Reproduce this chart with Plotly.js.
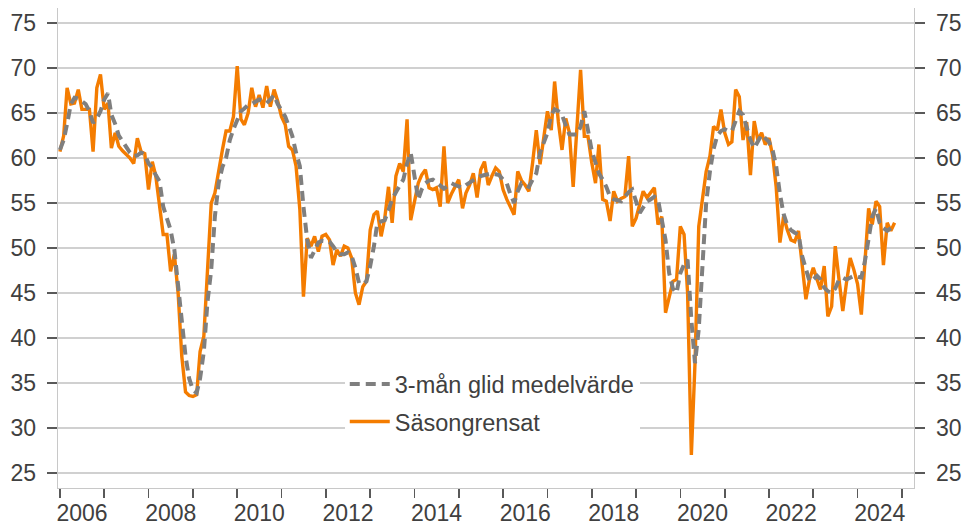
<!DOCTYPE html>
<html>
<head>
<meta charset="utf-8">
<script src="https://cdn.plot.ly/plotly-3.0.1.min.js"></script>
<style>html,body{margin:0;padding:0;background:#fff;}#chart{width:963px;height:526px;}</style>
</head>
<body>
<div id="chart"></div>
<script>
// ---- data ----
var startYear = 2006;
var startMonth = 1;
var sasongrensat = [
60.7,62.5,67.8,66.0,66.1,67.6,65.4,65.4,65.4,60.7,67.8,69.3,
65.4,66.1,61.1,62.8,61.3,60.8,60.4,60.0,59.4,62.2,60.7,60.5,
56.5,59.6,58.0,55.0,51.5,51.5,47.4,49.3,45.0,38.0,34.0,33.6,
33.5,33.7,38.5,40.2,47.0,55.0,56.1,58.7,60.9,63.0,63.0,64.6,
70.2,64.3,63.7,65.0,67.8,65.7,67.0,65.6,68.0,65.7,67.6,66.3,
64.6,63.7,61.3,60.9,59.1,54.3,44.6,51.1,50.2,51.3,49.6,51.3,
51.5,50.9,48.1,49.8,49.1,50.2,50.0,48.9,45.0,43.7,45.7,46.3,
52.0,53.7,54.1,51.3,53.3,56.8,52.8,58.0,59.4,58.5,64.3,53.1,
55.0,57.2,58.1,58.7,56.7,56.5,56.7,54.6,61.3,55.0,56.0,56.7,
57.6,54.4,56.1,57.0,58.3,55.6,58.7,59.6,57.0,58.0,58.9,58.5,
56.5,55.4,54.5,53.7,58.5,57.5,57.0,56.3,59.5,63.1,59.3,62.5,
65.2,63.1,68.5,64.0,60.9,64.4,62.8,56.8,63.0,69.8,62.4,62.4,
59.5,57.2,61.5,55.4,55.2,53.0,56.3,55.2,55.5,55.7,60.2,52.4,
53.3,55.0,56.3,55.6,56.2,56.7,52.6,53.5,42.8,44.5,46.3,46.5,
52.4,51.5,45.0,27.0,37.2,52.4,55.7,58.5,60.2,63.5,63.1,65.4,
62.8,61.5,61.8,67.6,66.8,62.0,64.0,58.1,64.1,62.0,62.8,61.5,
62.2,60.2,56.8,50.6,53.5,52.0,50.9,50.7,51.9,48.0,44.3,46.5,
47.8,46.5,45.4,48.0,42.4,43.5,50.2,46.5,43.0,46.1,48.9,47.6,
46.0,42.6,48.5,54.4,52.6,55.2,54.6,48.1,52.8,51.9,52.8
];
var medelvarde = [
60.9,62.0,63.8,66.0,66.7,66.6,66.3,66.0,65.2,63.9,64.4,65.2,
66.5,67.2,64.8,63.8,62.5,61.8,61.3,60.6,60.2,60.3,60.6,60.4,
59.4,58.9,58.1,57.4,54.6,53.2,52.0,49.8,46.0,42.0,38.0,35.5,
34.2,33.9,35.5,38.5,44.0,47.6,53.5,57.2,59.0,60.0,62.0,63.2,
64.1,65.2,65.5,65.9,66.0,66.3,66.5,66.3,66.1,66.5,67.0,66.0,
65.3,64.6,63.6,62.4,60.6,59.1,54.6,50.9,48.9,49.8,50.6,50.8,
50.8,50.7,50.2,49.6,49.3,49.3,49.5,49.1,47.8,46.1,46.0,46.3,
48.0,50.2,52.8,53.0,53.1,54.2,55.4,56.2,57.0,57.6,59.4,60.6,
58.0,55.4,56.5,57.2,57.5,57.6,57.3,56.9,56.6,56.9,57.2,57.0,
56.8,56.7,57.0,57.3,57.6,57.8,58.0,58.1,58.3,58.3,58.2,58.1,
57.6,57.2,56.0,55.0,56.3,57.2,57.0,56.8,57.6,58.3,60.6,61.8,
62.8,64.8,65.4,65.2,64.8,63.6,62.6,62.6,62.6,63.5,65.2,63.1,
60.8,59.5,58.3,57.6,56.8,55.7,55.4,55.3,55.2,55.7,56.2,56.5,
55.0,53.9,54.5,55.2,55.4,55.7,55.4,53.3,50.9,47.2,45.5,45.0,
47.2,48.2,48.7,42.0,37.2,41.0,48.0,55.0,58.5,61.0,62.5,63.0,
63.2,63.0,63.0,64.0,65.2,64.8,63.5,62.0,61.1,61.8,62.6,62.2,
61.8,60.8,59.1,56.0,53.8,52.5,52.0,51.7,51.5,49.1,47.5,46.3,
46.5,46.9,46.5,45.6,45.2,45.0,45.5,46.5,46.7,46.5,46.7,46.9,
46.8,46.7,48.5,51.0,53.5,54.4,52.8,52.2,51.9,52.2
];
var yTicks = [25,30,35,40,45,50,55,60,65,70,75];
var tickYears = [2006,2007,2008,2009,2010,2011,2012,2013,2014,2015,2016,2017,2018,2019,2020,2021,2022,2023,2024,2025];
var labelYears = [2006,2008,2010,2012,2014,2016,2018,2020,2022,2024];
var nameAvg = '3-mån glid medelvärde';
var nameSa = 'Säsongrensat';

function monthDate(i){
  var m = startMonth - 1 + i;
  var y = startYear + Math.floor(m / 12);
  var mm = (m % 12) + 1;
  return y + '-' + (mm < 10 ? '0' + mm : mm) + '-01';
}
var datesSa = sasongrensat.map(function(_, i){ return monthDate(i); });
var datesAvg = medelvarde.map(function(_, i){ return monthDate(i); });

var FONT = 'Liberation Sans, Arial, sans-serif';
var TXT = '#404040';
var yRange = [23.33, 76.67];
var xRange = ['2005-12-16', '2025-04-10'];

var traces = [
  {x: datesSa, y: sasongrensat, name: nameSa, type: 'scatter', mode: 'lines',
   line: {color: '#F47C00', width: 3.4}, legendgroup: 'b', legendrank: 2},
  {x: datesAvg, y: medelvarde, name: nameAvg, type: 'scatter', mode: 'lines',
   line: {color: '#7F7F7F', width: 4, dash: '10px,6px'}, legendgroup: 'a', legendrank: 1},
  // same series mapped onto the right-hand axis (invisible) so that axis gets drawn
  {x: datesAvg, y: medelvarde, yaxis: 'y2', type: 'scatter', mode: 'lines',
   line: {color: 'rgba(0,0,0,0)', width: 0}, showlegend: false, hoverinfo: 'skip'}
];

var layout = {
  width: 963, height: 526,
  margin: {l: 58, r: 49, t: 8, b: 38},
  paper_bgcolor: '#fff', plot_bgcolor: '#fff',
  font: {family: FONT, size: 22, color: TXT},
  showlegend: true,
  legend: {
    x: 0.335, y: 0.262, xanchor: 'left', yanchor: 'top',
    bgcolor: '#ffffff', borderwidth: 0,
    font: {family: FONT, size: 23.5, color: TXT},
    traceorder: 'grouped', tracegroupgap: 4, itemwidth: 40
  },
  xaxis: {
    type: 'date', range: xRange,
    tickmode: 'array',
    tickvals: labelYears.map(function(y){ return y + '-07-02'; }),
    ticktext: labelYears.map(String),
    ticks: '', showgrid: false, zeroline: false,
    showline: true, linecolor: '#c8c8c8', linewidth: 1.3,
    tickfont: {family: FONT, size: 23, color: TXT}, ticklabelstandoff: 4,
    minor: {tickmode: 'array', tickvals: tickYears.map(function(y){ return y + '-01-01'; }),
            ticks: 'outside', ticklen: 9, tickwidth: 1.6, tickcolor: '#595959', showgrid: false},
    fixedrange: true
  },
  yaxis: {
    range: yRange, tickmode: 'array', tickvals: yTicks,
    ticks: 'outside', ticklen: 10, tickwidth: 1.3, tickcolor: '#595959',
    showgrid: true, gridcolor: '#d0d0d0', gridwidth: 1.2, zeroline: false,
    showline: true, linecolor: '#c8c8c8', linewidth: 1.3,
    tickfont: {family: FONT, size: 23, color: TXT}, ticklabelstandoff: 6,
    fixedrange: true
  },
  yaxis2: {
    range: yRange, overlaying: 'y', side: 'right', anchor: 'x',
    tickmode: 'array', tickvals: yTicks,
    ticks: 'outside', ticklen: 10, tickwidth: 1.3, tickcolor: '#595959',
    showgrid: false, zeroline: false,
    showline: true, linecolor: '#c8c8c8', linewidth: 1.3,
    tickfont: {family: FONT, size: 23, color: TXT}, ticklabelstandoff: 6,
    fixedrange: true
  },
  shapes: [
    {type: 'line', xref: 'paper', x0: 0, x1: 1, yref: 'y', y0: 50, y1: 50,
     line: {color: '#8a8a8a', width: 2.2}, layer: 'below'}
  ]
};

Plotly.newPlot('chart', traces, layout, {displayModeBar: false, staticPlot: true});
</script>
</body>
</html>
